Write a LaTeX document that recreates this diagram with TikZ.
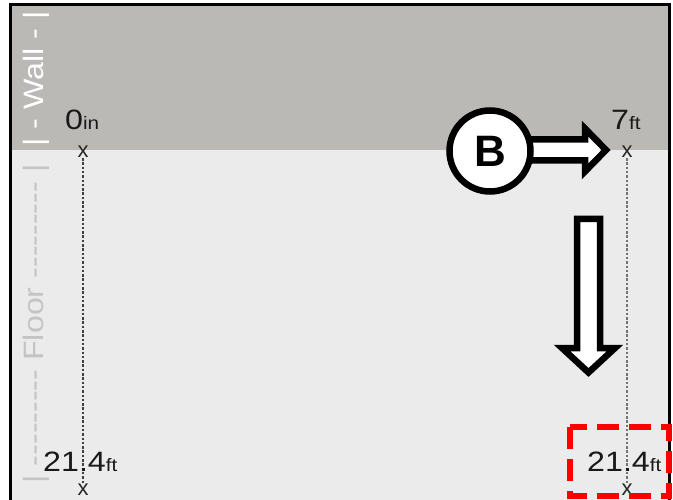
\documentclass[tikz,border=0pt]{standalone}
\usepackage{fontspec}
\setmainfont{Liberation Sans}
\newfontfamily\labfont[FakeStretch=1.15]{Liberation Sans}
\newcommand\hy{-\kern0pt }
\definecolor{wallc}{RGB}{187,185,181}
\definecolor{floorc}{RGB}{235,235,235}
\definecolor{floortxt}{RGB}{196,196,194}
\definecolor{redbox}{RGB}{255,0,0}
\begin{document}
\begin{tikzpicture}[x=1pt,y=-1pt,
  lab/.style={font=\labfont\fontsize{28}{32}\selectfont, inner sep=0pt, anchor=base west, text=black!90},
  mk/.style={font=\fontsize{22}{26}\selectfont, inner sep=0pt, text=black!85},
  guide/.style={draw=black!75, line width=1.7pt, dash pattern=on 2.5pt off 1.8pt},
  bigarrow/.style={draw=black, fill=white, line width=6.5pt, line join=miter},
  sidetext/.style={font=\labfont\fontsize{28}{32}\selectfont, inner sep=0pt, rotate=90},
  hilite/.style={draw=redbox, line width=6pt, dash pattern=on 22pt off 10pt, line join=miter}
]
\useasboundingbox (0,0) rectangle (673,500);
\clip (0,0) rectangle (673,500);
\fill[white] (0,0) rectangle (673,500);
\fill[wallc] (10,5) rectangle (669,150);
\fill[floorc] (10,150) rectangle (669,505);
\draw[line width=3pt] (10,510) -- (10,5) -- (669,5) -- (669,510);

% side labels
\node[sidetext, text=white] (wall) at (36,79) {|\ \hy\ Wall\ \hy\ |};
\node[sidetext, text=floortxt] (floor) at (36,324)
  {|\ \hy\hy\hy\hy\hy\hy\hy\hy\hy\ Floor\ \hy\hy\hy\hy\hy\hy\hy\hy\hy\ |};

% markers
\node[mk] (x1) at (83,152) {x};
\node[mk] (x2) at (83,490) {x};
\node[mk] (x3) at (627,152) {x};
\node[mk] (x4) at (627,490) {x};
\draw[guide] (x1) -- (x2);
\draw[guide, draw=black!55] (x3) -- (x4);

% value labels
\node[lab] (l0) at (65,130) {0{\fontsize{18}{20}\selectfont in}};
\node[lab] (l7) at (611,130) {7{\fontsize{18}{20}\selectfont ft}};
\node[lab] (lb1) at (43,471) {21.4{\fontsize{18}{20}\selectfont ft}};
\node[lab] (lb2) at (587,471) {21.4{\fontsize{18}{20}\selectfont ft}};

% block arrows
\draw[bigarrow] (505,139.5) -- (585,139.5) -- (585,128.5) -- (606,150) -- (585,171.5) -- (585,160.5) -- (505,160.5) -- cycle;
\draw[bigarrow] (577,219) -- (600,219) -- (600,348) -- (615,348) -- (588.5,372.5) -- (562,348) -- (577,348) -- cycle;

% B circle
\node[circle, draw=black, line width=6.5pt, fill=white, minimum size=81pt, inner sep=0pt,
  font=\bfseries\fontsize{44}{50}\selectfont] (B) at (490,151) {B};

% highlight
\draw[hilite] (570,426.5) rectangle (669,496);
\end{tikzpicture}
\end{document}
